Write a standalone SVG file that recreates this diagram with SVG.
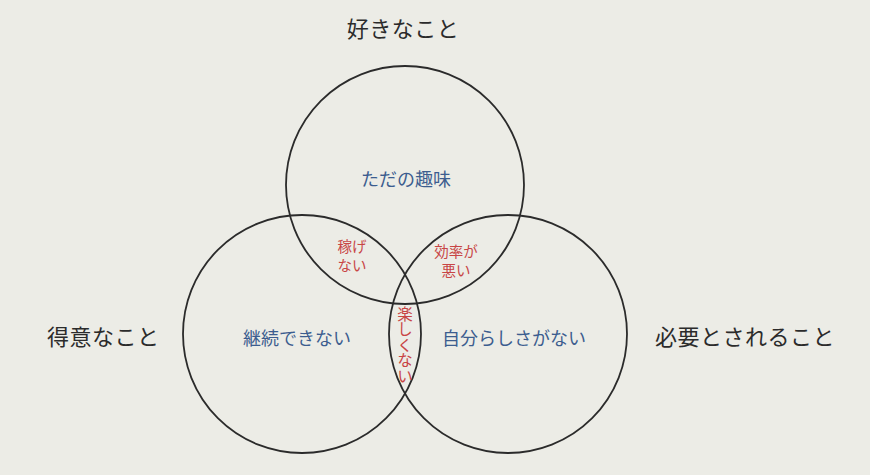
<svg xmlns="http://www.w3.org/2000/svg" width="870" height="475" viewBox="0 0 870 475">
<style>
text{font-family:"Noto Sans CJK JP","Noto Sans CJK SC",sans-serif;}
.ring{fill:none;stroke:#2b2b2b;stroke-width:1.8;}
.title{font-size:22px;fill:#2b2b2b;letter-spacing:0.5px;}
.blue{font-size:18px;fill:#3c5d8f;text-anchor:middle;}
.red{font-size:14.5px;fill:#c84545;text-anchor:middle;}
</style>
<rect width="870" height="475" fill="#ecece6"/>
<g id="connectors"></g>
<g id="circle-like">
<circle class="ring" cx="405" cy="185" r="119"/>
<text class="blue" x="406" y="186">ただの趣味</text>
</g>
<g id="circle-good">
<circle class="ring" cx="302" cy="334" r="119"/>
<text class="blue" x="297" y="345">継続できない</text>
</g>
<g id="circle-needed">
<circle class="ring" cx="508" cy="334" r="119"/>
<text class="blue" x="514" y="345">自分らしさがない</text>
</g>
<g id="label-like"><text class="title" x="403" y="37" text-anchor="middle">好きなこと</text></g>
<g id="label-good"><text class="title" x="47" y="345">得意なこと</text></g>
<g id="label-needed"><text class="title" x="655" y="345">必要とされること</text></g>
<g id="overlap-like-good">
<text class="red" x="352" y="252">稼げ</text>
<text class="red" x="352" y="271">ない</text>
</g>
<g id="overlap-like-needed">
<text class="red" x="456" y="257">効率が</text>
<text class="red" x="456" y="276">悪い</text>
</g>
<g id="overlap-good-needed">
<text class="red" x="405" y="306" style="writing-mode:vertical-rl;text-anchor:start;font-size:15.5px;">楽しくない</text>
</g>
</svg>
